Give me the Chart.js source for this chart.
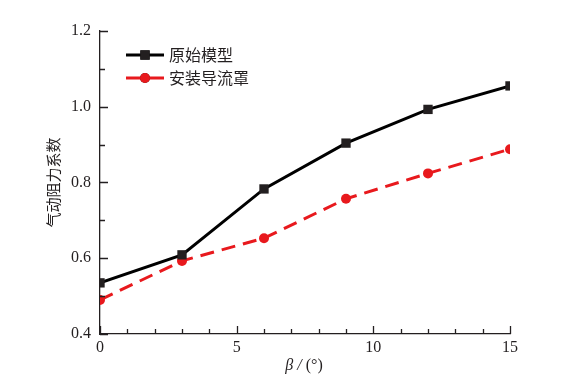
<!DOCTYPE html>
<html>
<head>
<meta charset="utf-8">
<script src="https://cdn.jsdelivr.net/npm/chart.js@4/dist/chart.umd.min.js"></script>
<style>
  html, body { margin: 0; padding: 0; background: #fff; }
  #wrap { width: 569px; height: 386px; }
</style>
</head>
<body>
<div id="wrap"><canvas id="myChart"></canvas></div>
<script>
// angle values (deg) and drag coefficients
const betaVals = [0, 3, 6, 9, 12, 15];
const originalModel = [0.535, 0.609, 0.783, 0.904, 0.993, 1.055];
const withFairing = [0.490, 0.593, 0.653, 0.757, 0.824, 0.888];
const seriesNames = ["原始模型", "安装导流罩"];
const yTitle = "气动阻力系数";

const axisColor = "#231f20";
const serif = "'Liberation Serif', 'Times New Roman', serif";
const cjk = "'Noto Sans CJK SC', sans-serif";

const toPoints = (ys) => betaVals.map((b, i) => ({ x: b, y: ys[i] }));

// inward tick marks (major + minor)
const tickMarks = {
  id: "tickMarks",
  afterDraw(chart) {
    const ctx = chart.ctx;
    const xs = chart.scales.x, ys = chart.scales.y;
    ctx.save();
    ctx.strokeStyle = axisColor;
    ctx.lineWidth = 1.3;
    ctx.beginPath();
    for (let v = 0; v <= 15; v++) {
      const px = Math.round(xs.getPixelForValue(v)) + 0.5;
      const len = v % 5 === 0 ? 8 : 5;
      ctx.moveTo(px, ys.bottom);
      ctx.lineTo(px, ys.bottom - len);
    }
    for (let k = 4; k <= 12; k++) {
      const py = Math.round(ys.getPixelForValue(k / 10)) + 0.5;
      const len = k % 2 === 0 ? 8 : 5;
      ctx.moveTo(xs.left, py);
      ctx.lineTo(xs.left + len, py);
    }
    ctx.stroke();
    ctx.restore();
  },
};

// legend inside plot, top-left
const innerLegend = {
  id: "innerLegend",
  afterDraw(chart) {
    const ctx = chart.ctx;
    const x0 = 126, x1 = 164, rows = [55, 78];
    ctx.save();
    chart.data.datasets.forEach((ds, i) => {
      const y = rows[i];
      ctx.strokeStyle = ds.borderColor;
      ctx.lineWidth = ds.borderWidth;
      ctx.setLineDash([]);
      ctx.beginPath();
      ctx.moveTo(x0, y);
      ctx.lineTo(x1, y);
      ctx.stroke();
      Chart.helpers.drawPoint(ctx, {
        pointStyle: ds.pointStyle,
        radius: ds.pointRadius,
        borderWidth: 0,
      }, (x0 + x1) / 2, y);
      ctx.fillStyle = ds.pointBackgroundColor;
      ctx.fill();
      ctx.fillStyle = "#231f20";
      ctx.font = "16px " + cjk;
      ctx.textBaseline = "middle";
      ctx.textAlign = "left";
      ctx.fillText(ds.label, 169, y);
    });
    ctx.restore();
  },
};

// x-axis title with italic beta
const xTitle = {
  id: "xTitle",
  afterDraw(chart) {
    const ctx = chart.ctx;
    const parts = [
      { t: "β / ", f: "italic 16px " + serif },
      { t: "(°)", f: "16px " + serif },
    ];
    ctx.save();
    let total = 0;
    parts.forEach((p) => { ctx.font = p.f; p.w = ctx.measureText(p.t).width; total += p.w; });
    let x = 304 - total / 2;
    ctx.fillStyle = "#231f20";
    ctx.textBaseline = "middle";
    ctx.textAlign = "left";
    parts.forEach((p) => { ctx.font = p.f; ctx.fillText(p.t, x, 366); x += p.w; });
    ctx.restore();
  },
};

new Chart(document.getElementById("myChart"), {
  type: "line",
  data: {
    datasets: [
      {
        label: seriesNames[0],
        data: toPoints(originalModel),
        borderColor: "#000000",
        borderWidth: 3,
        pointStyle: "rect",
        pointRadius: 6.6,
        pointBackgroundColor: "#231f20",
        pointBorderWidth: 0,
        tension: 0,
      },
      {
        label: seriesNames[1],
        data: toPoints(withFairing),
        borderColor: "#e8191d",
        borderWidth: 3,
        borderDash: [14, 8],
        pointStyle: "circle",
        pointRadius: 5,
        pointBackgroundColor: "#e8191d",
        pointBorderWidth: 0,
        tension: 0,
      },
    ],
  },
  options: {
    responsive: true,
    maintainAspectRatio: false,
    animation: false,
    layout: { padding: { top: 31, right: 59, bottom: 0, left: 0 } },
    plugins: { legend: { display: false }, tooltip: { enabled: false } },
    scales: {
      x: {
        type: "linear",
        min: 0,
        max: 15,
        afterFit: (s) => { s.height = 52; },
        ticks: { stepSize: 5, color: "#231f20", padding: 4, font: { family: serif, size: 16 } },
        grid: { display: false, drawTicks: false },
        border: { display: true, color: axisColor, width: 1.3 },
      },
      y: {
        min: 0.4,
        max: 1.2,
        afterFit: (s) => { s.width = 100; },
        ticks: {
          stepSize: 0.2,
          color: "#231f20",
          padding: 9,
          font: { family: serif, size: 16 },
          callback: (v) => Number(v).toFixed(1),
        },
        grid: { display: false, drawTicks: false },
        border: { display: true, color: axisColor, width: 1.3 },
        title: {
          display: true,
          text: yTitle,
          color: "#231f20",
          font: { family: cjk, size: 15 },
          padding: { top: 44, bottom: 0 },
        },
      },
    },
  },
  plugins: [tickMarks, innerLegend, xTitle],
});
</script>
</body>
</html>
